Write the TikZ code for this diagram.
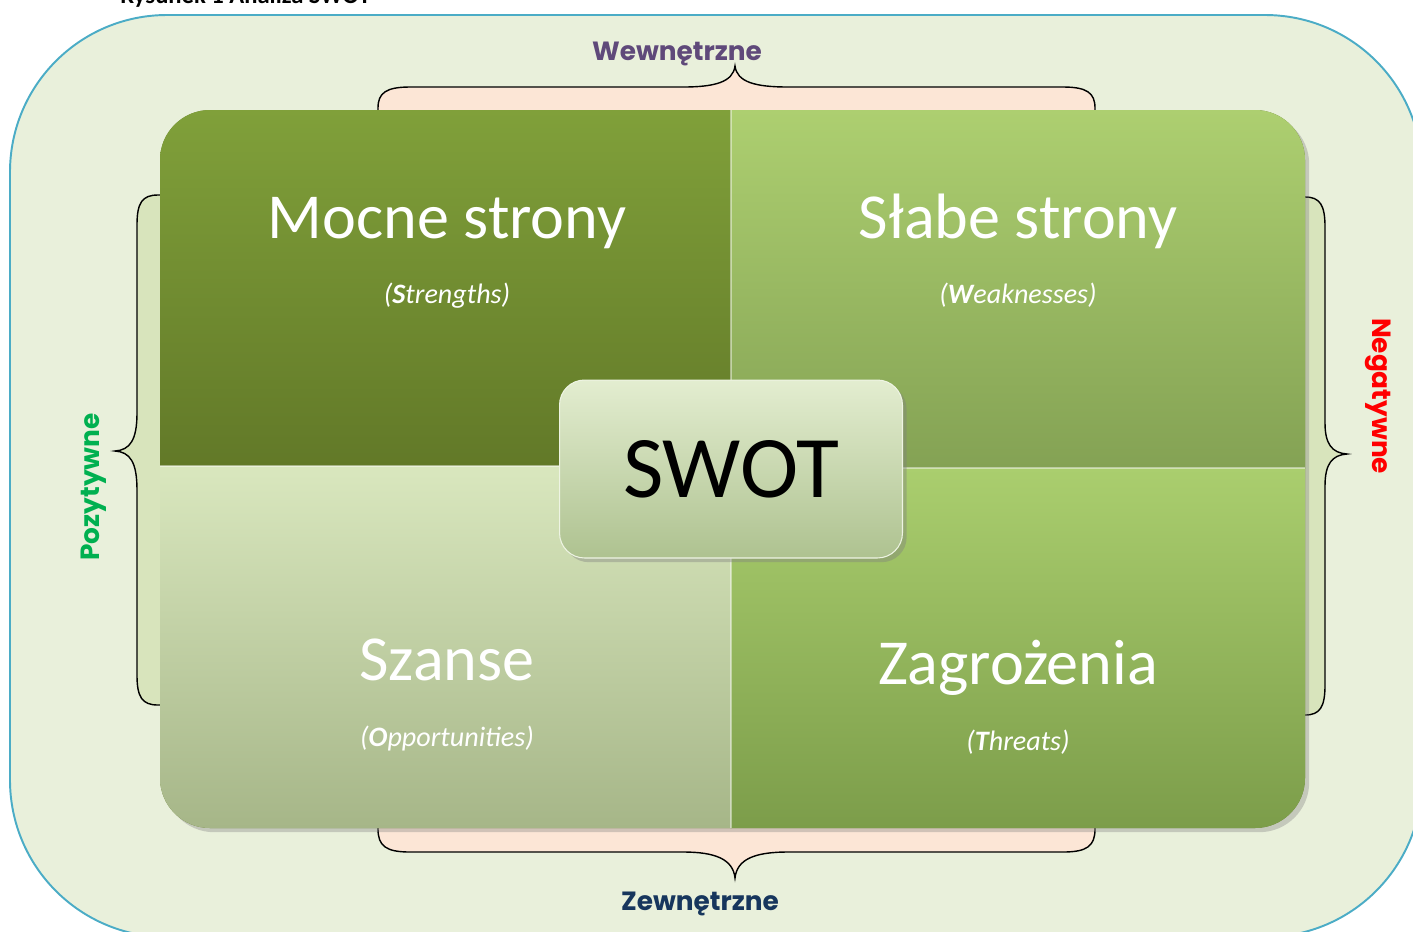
\documentclass[tikz,border=0pt]{standalone}
\usepackage{fontspec}
\setmainfont{Carlito}
\newfontfamily\labelfont{Poppins}
\usetikzlibrary{shadows,positioning}
%
\definecolor{outerfill}{RGB}{233,240,219}
\definecolor{outerline}{RGB}{75,172,198}
\definecolor{peach}{RGB}{252,230,214}
\definecolor{sidefill}{RGB}{216,228,188}
\definecolor{strTop}{RGB}{128,160,58}
\definecolor{strBot}{RGB}{98,121,40}
\definecolor{weakTop}{RGB}{173,207,112}
\definecolor{weakBot}{RGB}{132,162,84}
\definecolor{oppTop}{RGB}{217,231,190}
\definecolor{oppBot}{RGB}{166,182,136}
\definecolor{thrTop}{RGB}{170,206,110}
\definecolor{thrBot}{RGB}{124,157,74}
\definecolor{boxTop}{RGB}{227,237,208}
\definecolor{boxBot}{RGB}{174,194,144}
\definecolor{inColor}{RGB}{95,73,122}
\definecolor{exColor}{RGB}{23,54,93}
\definecolor{posColor}{RGB}{0,176,80}
\definecolor{negColor}{RGB}{255,0,0}
%
\begin{document}
\begin{tikzpicture}[x=0.02cm,y=-0.02cm,
  quadtitle/.style={anchor=base, text=white, font=\fontsize{36.5}{40}\selectfont},
  quadsub/.style={anchor=base, text=white, font=\fontsize{16}{18}\selectfont\itshape},
  sidelabel/.style={font=\labelfont\bfseries\fontsize{15}{18}\selectfont},
  swotbox/.style={rounded corners=0.5cm, top color=boxTop, bottom color=boxBot,
    draw=boxTop!60!white, line width=0.6pt, minimum width=6.86cm, minimum height=3.56cm,
    drop shadow={opacity=0.4}, font=\fontsize{50}{56}\selectfont}]%
%
\useasboundingbox (0,0) rectangle (1413,931);
\clip (0,0) rectangle (1413,931);
%
% caption, cut off by the page
\node[anchor=base west, inner sep=0pt, font=\bfseries\fontsize{14}{16}\selectfont] (caption) at (120,3) {Rysunek 1 Analiza SWOT};
%
% background
\draw [ fill=outerfill, draw=outerline, line width=1.1pt, rounded corners=3.14cm ] (10,15) rectangle (1422,937);
%
% braces (the closing edge lies under the quadrants)
\draw [ fill=peach, line width=0.8pt ] (378,116) -- (378,108) .. controls (378,93) and (386,87) .. (410,87) -- (683,87)
  .. controls (715,87) and (733,82) .. (735,66) .. controls (737,82) and (755,87) .. (788,87)
  -- (1063,87) .. controls (1087,87) and (1095,93) .. (1095,108) -- (1095,116) -- cycle;
\draw [ fill=peach, line width=0.8pt ] (378,822) -- (378,829) .. controls (378,846) and (386,852) .. (410,852) -- (683,852)
  .. controls (715,852) and (733,859) .. (735,878) .. controls (737,859) and (755,852) .. (788,852)
  -- (1063,852) .. controls (1087,852) and (1095,846) .. (1095,829) -- (1095,822) -- cycle;
\draw [ fill=sidefill, line width=0.8pt ] (166,195) -- (158,195) .. controls (142,195) and (137,203) .. (137,225) -- (137,413)
  .. controls (137,440) and (130,450) .. (115,451) .. controls (130,452) and (137,462) .. (137,490)
  -- (137,675) .. controls (137,697) and (142,705) .. (158,705) -- (166,705) -- cycle;
\draw [ fill=sidefill, line width=0.8pt ] (1299,197) -- (1305,197) .. controls (1320,197) and (1325,205) .. (1325,227) -- (1325,423)
  .. controls (1325,444) and (1332,453) .. (1347,454) .. controls (1332,455) and (1325,464) .. (1325,486)
  -- (1325,685) .. controls (1325,707) and (1320,715) .. (1305,715) -- (1299,715) -- cycle;
%
% quadrants
\path [ fill=strBot, rounded corners=1cm, drop shadow={opacity=0.35} ] (160,110) rectangle (1305,828);
\begin{scope}
\clip [ rounded corners=1cm ] (160,110) rectangle (1305,828);
\shade [ top color=strTop, bottom color=strBot ] (160,110) rectangle (731,466);
\shade [ top color=weakTop, bottom color=weakBot ] (731,110) rectangle (1305,468);
\shade [ top color=oppTop, bottom color=oppBot ] (160,466) rectangle (731,828);
\shade [ top color=thrTop, bottom color=thrBot ] (731,468) rectangle (1305,828);
\draw [ white, opacity=0.45, line width=1.2pt ] (731,110) -- (731,828);
\draw [ white, opacity=0.45, line width=1.2pt ] (160,466) -- (731,466);
\draw [ white, opacity=0.45, line width=1.2pt ] (731,468) -- (1305,468);
\end{scope}
%
\node[quadtitle] (strengths) at (447,238) {Mocne strony};
\node[quadsub] (strengthsEn) at (447,303) {(\textbf{S}trengths)};
\node[quadtitle] (weaknesses) at (1018,238) {Słabe strony};
\node[quadsub] (weaknessesEn) at (1018,303) {(\textbf{W}eaknesses)};
\node[quadtitle] (opportunities) at (447,680) {Szanse};
\node[quadsub] (opportunitiesEn) at (447,746) {(\textbf{O}pportunities)};
\node[quadtitle] (threats) at (1018,684) {Zagrożenia};
\node[quadsub] (threatsEn) at (1018,750) {(\textbf{T}hreats)};
%
\node[swotbox] (swot) at (731,469) {SWOT};
%
% side labels
\node[sidelabel, text=inColor, anchor=base] (internal) at (677,60) {Wewnętrzne};
\node[sidelabel, text=exColor, anchor=base] (external) at (700,910) {Zewnętrzne};
\node[sidelabel, text=posColor, rotate=90] (positive) at (94,487) {Pozytywne};
\node[sidelabel, text=negColor, rotate=-90] (negative) at (1378,396) {Negatywne};
%
\end{tikzpicture}
\end{document}
